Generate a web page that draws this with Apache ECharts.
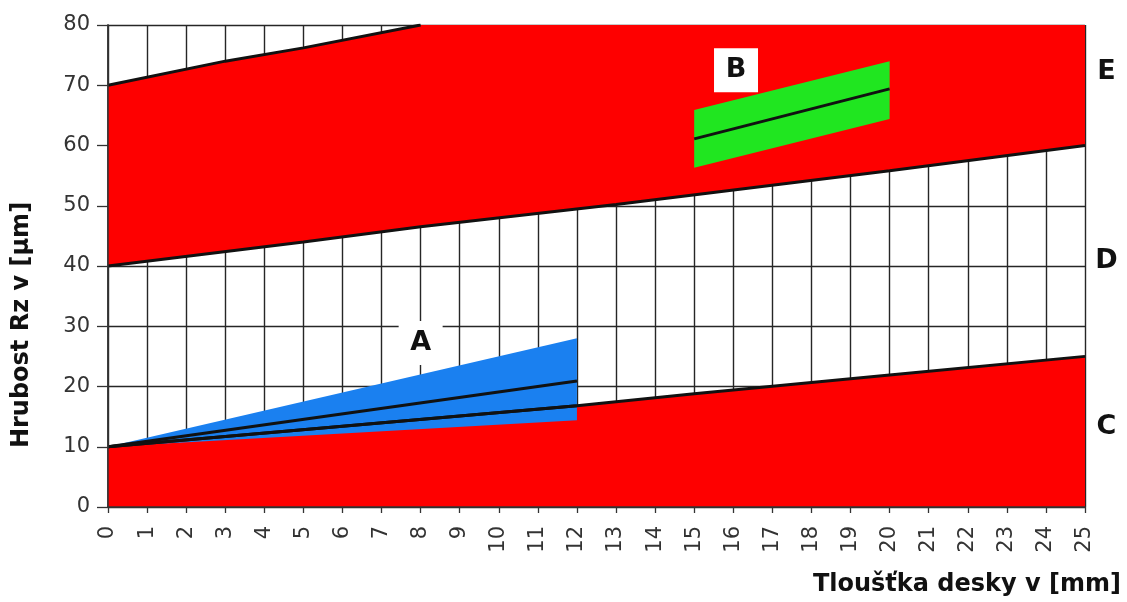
<!DOCTYPE html>
<html><head><meta charset="utf-8">
<script src="https://cdn.jsdelivr.net/npm/echarts@6/dist/echarts.min.js"></script>
<style>html,body{margin:0;padding:0;background:#fff}#c{width:1127px;height:602px}</style>
</head><body><div id="c"></div>
<script>
// ---- data (x = thickness [mm], y = roughness Rz [µm]) ----
const lineC = [[0,10],[12,16.8],[15,18.8],[20,21.9],[25,25]];
const lineD = [[0,40],[5,44],[8,46.5],[13,50.2],[20,55.8],[25,60]];
const lineE = [[0,70],[3,74],[5,76.2],[8,80]];
const yTop = 80;
const wedgeTop = [[0,10],[12,28]];
const wedgeBottom = [[0,10],[12,14.4]];
const lineA1 = [[0,10],[12,20.9]];
const lineA2 = [[0,10],[12,16.8]];
const greenTop = [[15,65.9],[20,74]];
const greenBottom = [[15,56.3],[20,64.4]];
const lineB = [[15,61.1],[20,69.4]];
const zoneLabels = [['E',25.55,72.2],['D',25.55,40.9],['C',25.55,13.3]];
const boxLabels = [['A',8.0,27.2],['B',16.07,72.5]];
const xMin = 0, xMax = 25, xStep = 1;
const yMin = 0, yMax = 80, yStep = 10;

const FONT = '"DejaVu Sans", Verdana, sans-serif';
const RED = '#fe0000', BLUE = '#1a80f0', GREEN = '#20e620';

// polygons built from the lines
const polyC = lineC.concat([[xMax, yMin], [xMin, yMin]]);
const polyDE = lineD.concat([[xMax, yTop]], lineE.slice().reverse());
const polyA = wedgeTop.concat(wedgeBottom.slice().reverse());
const polyB = greenTop.concat(greenBottom.slice().reverse());

function polySeries(pts, color) {
  return {
    type: 'custom', xAxisIndex: 0, yAxisIndex: 0, z: 2, silent: true,
    data: [[pts[0][0], pts[0][1]]],
    renderItem: function (params, api) {
      return { type: 'polygon', shape: { points: pts.map(p => api.coord(p)) },
               style: { fill: color, stroke: null } };
    }
  };
}
function lineSeries(data, w) {
  return { type: 'line', data: data, showSymbol: false, z: 4, silent: true,
           lineStyle: { color: '#111', width: w }, animation: false };
}

const chart = echarts.init(document.getElementById('c'), null, { renderer: 'canvas' });
chart.setOption({
  animation: false,
  backgroundColor: '#fff',
  grid: { left: 108, right: 42, top: 25, bottom: 95, containLabel: false },
  xAxis: [{
    type: 'value', min: xMin, max: xMax, interval: xStep,
    axisLine: { show: true, lineStyle: { color: '#333', width: 1.5 } },
    axisTick: { show: true, inside: false, length: 6, lineStyle: { color: '#333', width: 1.3 } },
    axisLabel: { rotate: 90, fontSize: 21, margin: 19, color: '#333', fontFamily: FONT },
    splitLine: { show: true, lineStyle: { color: '#262626', width: 1.4 } }
  }, {
    type: 'value', position: 'top', min: xMin, max: xMax, z: 10,
    axisLine: { show: true, lineStyle: { color: '#333', width: 1.5 } },
    axisTick: { show: false }, axisLabel: { show: false }, splitLine: { show: false }
  }],
  yAxis: [{
    type: 'value', min: yMin, max: yMax, interval: yStep,
    axisLine: { show: true, lineStyle: { color: '#333', width: 1.5 } },
    axisTick: { show: true, inside: false, length: 11, lineStyle: { color: '#333', width: 1.3 } },
    axisLabel: { fontSize: 21, margin: 18, color: '#333', fontFamily: FONT },
    splitLine: { show: true, lineStyle: { color: '#262626', width: 1.4 } }
  }, {
    type: 'value', position: 'right', min: yMin, max: yMax, z: 10,
    axisLine: { show: true, lineStyle: { color: '#333', width: 1.5 } },
    axisTick: { show: false }, axisLabel: { show: false }, splitLine: { show: false }
  }],
  graphic: [
    { type: 'text', x: 22, y: 325, rotation: Math.PI / 2,
      style: { text: 'Hrubost Rz v [µm]', align: 'center', verticalAlign: 'middle',
               font: 'bold 24px ' + FONT, fill: '#111' } },
    { type: 'text', x: 1121, y: 585,
      style: { text: 'Tloušťka desky v [mm]', align: 'right', verticalAlign: 'middle',
               font: 'bold 24px ' + FONT, fill: '#111' } }
  ],
  series: [
    polySeries(polyC, RED),
    polySeries(polyDE, RED),
    polySeries(polyA, BLUE),
    polySeries(polyB, GREEN),
    lineSeries(lineC, 3),
    lineSeries(lineD, 3),
    lineSeries(lineE, 3),
    lineSeries(lineA1, 3),
    lineSeries(lineA2, 3),
    lineSeries(lineB, 3),
    {
      type: 'custom', z: 6, silent: true, clip: false,
      data: boxLabels.map(d => [d[1], d[2]]),
      renderItem: function (params, api) {
        const p = api.coord([api.value(0), api.value(1)]);
        const t = boxLabels[params.dataIndex][0];
        return { type: 'group', children: [
          { type: 'rect', shape: { x: p[0] - 22, y: p[1] - 22, width: 44, height: 44 },
            style: { fill: '#fff' } },
          { type: 'text', x: p[0], y: p[1],
            style: { text: t, align: 'center', verticalAlign: 'middle',
                     font: 'bold 27px ' + FONT, fill: '#111' } }
        ]};
      }
    },
    {
      type: 'custom', z: 6, silent: true, clip: false,
      data: zoneLabels.map(d => [d[1], d[2]]),
      renderItem: function (params, api) {
        const p = api.coord([api.value(0), api.value(1)]);
        return { type: 'text', x: p[0], y: p[1],
          style: { text: zoneLabels[params.dataIndex][0], align: 'center', verticalAlign: 'middle',
                   font: 'bold 27px ' + FONT, fill: '#111' } };
      }
    }
  ]
});
</script>
</body></html>
